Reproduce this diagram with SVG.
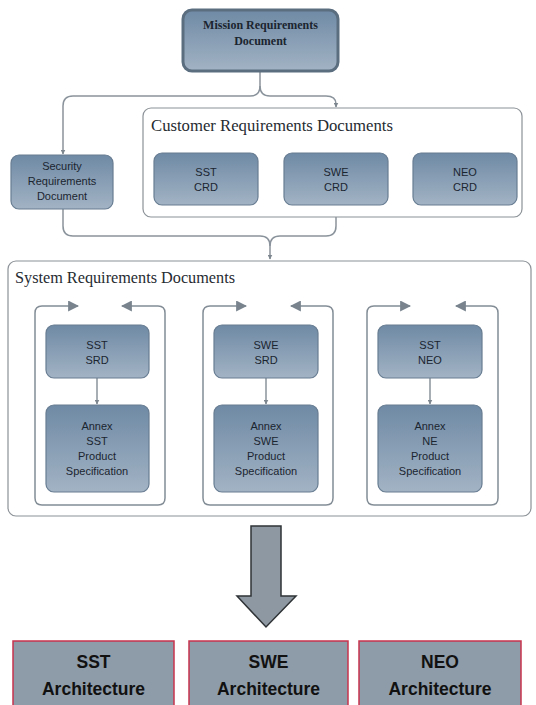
<svg xmlns="http://www.w3.org/2000/svg" width="536" height="705" viewBox="0 0 536 705">
<defs>
<linearGradient id="g" x1="0" y1="0" x2="0" y2="1">
<stop offset="0" stop-color="#6f8aa5"/>
<stop offset="1" stop-color="#a2b3c4"/>
</linearGradient>
<marker id="a" viewBox="0 0 10 10" refX="9" refY="5" markerWidth="5" markerHeight="5" orient="auto-start-reverse" markerUnits="userSpaceOnUse">
<path d="M0,0 L10,5 L0,10 z" fill="#7d868e"/>
</marker>
<marker id="b" viewBox="0 0 10 10" refX="9" refY="5" markerWidth="11" markerHeight="11" orient="auto-start-reverse" markerUnits="userSpaceOnUse">
<path d="M0,0 L10,5 L0,10 z" fill="#78838d"/>
</marker>
<style>
.n{fill:url(#g);stroke:#687d92;stroke-width:1.2}
.t{font-family:"Liberation Sans","DejaVu Sans",sans-serif;font-size:11px;fill:#1b2530;text-anchor:middle}
.m{font-family:"Liberation Serif","DejaVu Serif",serif;font-size:12px;font-weight:bold;fill:#1b2530;text-anchor:middle}
.h{font-family:"Liberation Serif","DejaVu Serif",serif;font-size:16px;fill:#262b31}
.c{fill:#fff;stroke:#8c9297;stroke-width:1.2}
.e{fill:none;stroke:#8a939b;stroke-width:1.5}
.l{fill:none;stroke:#838d96;stroke-width:1.5}
.r{fill:#8e9ba8;stroke:#c8334d;stroke-width:1.5}
.rt{font-family:"Liberation Sans",Arial,sans-serif;font-size:17.5px;font-weight:bold;fill:#111;text-anchor:middle}
</style>
</defs>
<rect width="536" height="705" fill="#fff"/>

<g id="customer-container">
<rect class="c" x="143" y="108" width="379" height="109" rx="8"/>
<text class="h" x="151" y="131" textLength="242" lengthAdjust="spacingAndGlyphs">Customer Requirements Documents</text>
</g>
<g id="system-container">
<rect class="c" x="8" y="261" width="523" height="255" rx="8"/>
<text class="h" x="15" y="283" textLength="220" lengthAdjust="spacingAndGlyphs">System Requirements Documents</text>
</g>

<g id="connectors">
<path class="e" d="M260,71 V86 Q260,96 250,96 H73 Q63,96 63,106 V154" marker-end="url(#a)"/>
<path class="e" d="M260,86 Q260,96 270,96 H326 Q336,96 336,104 V107" marker-end="url(#a)"/>
<path class="e" d="M63,209 V226 Q63,236 73,236 H260 Q270,236 270,246 V259" marker-end="url(#a)"/>
<path class="e" d="M336,217 V226 Q336,236 326,236 H280 Q270,236 270,246"/>
<path class="l" d="M78,306 H42 Q35,306 35,313 V498 Q35,505 42,505 H158 Q165,505 165,498 V313 Q165,306 158,306 H122" marker-start="url(#b)" marker-end="url(#b)"/>
<path class="l" d="M246,306 H210 Q203,306 203,313 V498 Q203,505 210,505 H326 Q333,505 333,498 V313 Q333,306 326,306 H291" marker-start="url(#b)" marker-end="url(#b)"/>
<path class="l" d="M410,306 H374 Q367,306 367,313 V498 Q367,505 374,505 H491 Q498,505 498,498 V313 Q498,306 491,306 H456" marker-start="url(#b)" marker-end="url(#b)"/>
<path class="e" d="M97,378 V404" marker-end="url(#a)"/>
<path class="e" d="M266,378 V404" marker-end="url(#a)"/>
<path class="e" d="M430,378 V404" marker-end="url(#a)"/>
<path d="M251,526 H281 V596 H296 L266,627 L237,596 H251 Z" fill="#8d98a3" stroke="#2f3336" stroke-width="1.5"/>
</g>

<g id="mission">
<rect x="183" y="10" width="155" height="61" rx="9" fill="url(#g)" stroke="#5b6e80" stroke-width="3"/>
<text class="m" x="260.5" y="29">Mission Requirements</text>
<text class="m" x="260.5" y="45">Document</text>
</g>
<g id="security">
<rect class="n" x="11" y="155" width="102" height="54" rx="8"/>
<text class="t" x="62" y="170">Security</text>
<text class="t" x="62" y="185">Requirements</text>
<text class="t" x="62" y="200">Document</text>
</g>
<g id="sst-crd">
<rect class="n" x="154" y="153" width="104" height="52" rx="8"/>
<text class="t" x="206" y="176">SST</text>
<text class="t" x="206" y="191">CRD</text>
</g>
<g id="swe-crd">
<rect class="n" x="284" y="153" width="104" height="52" rx="8"/>
<text class="t" x="336" y="176">SWE</text>
<text class="t" x="336" y="191">CRD</text>
</g>
<g id="neo-crd">
<rect class="n" x="413" y="153" width="104" height="52" rx="8"/>
<text class="t" x="465" y="176">NEO</text>
<text class="t" x="465" y="191">CRD</text>
</g>

<g id="sst-srd">
<rect class="n" x="46" y="325" width="103" height="53" rx="8"/>
<text class="t" x="97" y="349">SST</text>
<text class="t" x="97" y="364">SRD</text>
</g>
<g id="sst-annex">
<rect class="n" x="46" y="405" width="103" height="87" rx="8"/>
<text class="t" x="97" y="430">Annex</text>
<text class="t" x="97" y="445">SST</text>
<text class="t" x="97" y="460">Product</text>
<text class="t" x="97" y="475">Specification</text>
</g>
<g id="swe-srd">
<rect class="n" x="214" y="325" width="104" height="53" rx="8"/>
<text class="t" x="266" y="349">SWE</text>
<text class="t" x="266" y="364">SRD</text>
</g>
<g id="swe-annex">
<rect class="n" x="214" y="405" width="104" height="87" rx="8"/>
<text class="t" x="266" y="430">Annex</text>
<text class="t" x="266" y="445">SWE</text>
<text class="t" x="266" y="460">Product</text>
<text class="t" x="266" y="475">Specification</text>
</g>
<g id="sst-neo">
<rect class="n" x="378" y="325" width="104" height="53" rx="8"/>
<text class="t" x="430" y="349">SST</text>
<text class="t" x="430" y="364">NEO</text>
</g>
<g id="ne-annex">
<rect class="n" x="378" y="405" width="104" height="87" rx="8"/>
<text class="t" x="430" y="430">Annex</text>
<text class="t" x="430" y="445">NE</text>
<text class="t" x="430" y="460">Product</text>
<text class="t" x="430" y="475">Specification</text>
</g>

<g id="sst-arch">
<rect class="r" x="13" y="641" width="161" height="70"/>
<text class="rt" x="93.5" y="668">SST</text>
<text class="rt" x="93.5" y="695">Architecture</text>
</g>
<g id="swe-arch">
<rect class="r" x="189" y="641" width="159" height="70"/>
<text class="rt" x="268.5" y="668">SWE</text>
<text class="rt" x="268.5" y="695">Architecture</text>
</g>
<g id="neo-arch">
<rect class="r" x="359" y="641" width="162" height="70"/>
<text class="rt" x="440" y="668">NEO</text>
<text class="rt" x="440" y="695">Architecture</text>
</g>
</svg>
